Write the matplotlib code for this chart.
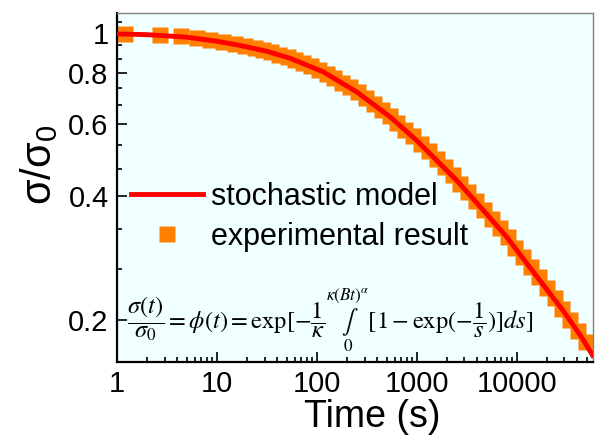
import matplotlib
matplotlib.use("Agg")
import matplotlib.pyplot as plt
from matplotlib.ticker import FixedLocator, NullFormatter, LogLocator
import numpy as np

# stochastic model curve (time in s, sigma/sigma0)
model_t = [1, 2, 5, 10, 17, 32, 54, 115, 250, 540, 1000, 2500, 4500,
           7900, 15000, 29000, 45000, 57500]
model_v = [0.995, 0.991, 0.977, 0.955, 0.933, 0.902, 0.868, 0.805, 0.719,
           0.625, 0.547, 0.438, 0.373, 0.319, 0.260, 0.211, 0.181, 0.164]

# experimental points
exp_t = [1.2, 2.7, 4.4, 6.3, 8.6, 11.5, 15, 19, 24, 29, 35, 42, 51, 61, 73,
         88, 105, 126, 150, 180, 215, 258, 310, 370, 445, 535, 640, 770,
         920, 1100, 1320, 1580, 1900, 2280, 2730, 3270, 3920, 4700, 5630,
         6750, 8100, 9700, 11600, 13900, 16700, 20000, 24000, 28700, 34400,
         41200, 49400]
exp_v = [0.995, 0.990, 0.983, 0.974, 0.964, 0.952, 0.940, 0.929, 0.918,
         0.908, 0.898, 0.886, 0.873, 0.859, 0.845, 0.830, 0.815, 0.796,
         0.776, 0.757, 0.738, 0.718, 0.695, 0.672, 0.649, 0.627, 0.605,
         0.580, 0.560, 0.538, 0.515, 0.492, 0.471, 0.450, 0.429, 0.409,
         0.389, 0.370, 0.352, 0.335, 0.318, 0.300, 0.285, 0.269, 0.254,
         0.239, 0.226, 0.213, 0.200, 0.188, 0.177]

y_major = [0.2, 0.4, 0.6, 0.8, 1.0]
y_major_labels = ["0.2", "0.4", "0.6", "0.8", "1"]
y_minor = [0.2667, 0.3333, 0.4667, 0.5333, 0.6667, 0.7333, 0.8667, 0.9333, 1.0667]
x_major = [1, 10, 100, 1000, 10000]
x_major_labels = ["1", "10", "100", "1000", "10000"]

plt.rcParams["font.family"] = ["Liberation Sans", "DejaVu Sans"]
plt.rcParams["mathtext.fontset"] = "custom"
plt.rcParams["mathtext.rm"] = "Liberation Sans"
plt.rcParams["mathtext.it"] = "Liberation Sans"

fig = plt.figure(figsize=(5.95, 4.37), dpi=100)
ax = fig.add_axes([117/595, 1-362/437, 476/595, 349/437])
ax.set_facecolor("#F0FFFF")

ax.plot(exp_t, exp_v, ls="none", marker="s", ms=12, color="#FF8000",
        mec="none", label="experimental result", zorder=2)
ax.plot(model_t, model_v, color="#FF0000", lw=3.5, label="stochastic model",
        zorder=3)

ax.set_xscale("log")
ax.set_yscale("log")
ax.set_xlim(1, 58000)
ax.set_ylim(0.158, 1.119)

ax.xaxis.set_major_locator(FixedLocator(x_major))
ax.set_xticklabels(x_major_labels)
ax.xaxis.set_minor_locator(LogLocator(base=10, subs=np.arange(2, 10)))
ax.xaxis.set_minor_formatter(NullFormatter())
ax.yaxis.set_major_locator(FixedLocator(y_major))
ax.set_yticklabels(y_major_labels)
ax.yaxis.set_minor_locator(FixedLocator(y_minor))
ax.yaxis.set_minor_formatter(NullFormatter())

ax.tick_params(which="both", direction="in", top=False, right=False,
               width=1.2, labelsize=21)
ax.tick_params(which="major", length=7, pad=6)
ax.tick_params(which="minor", length=3.5)

for s in ["left", "bottom"]:
    ax.spines[s].set_linewidth(1.6)
    ax.spines[s].set_color("black")
for s in ["top", "right"]:
    ax.spines[s].set_linewidth(1.0)
    ax.spines[s].set_color("#808080")

ax.set_xlabel("Time (s)", fontsize=27)
ax.xaxis.set_label_coords((372-117)/476, -(399-362)/349)
ax.set_ylabel("σ/σ$_0$", fontsize=30)
ax.yaxis.set_label_coords(-(117-60)/476, (362-165)/349)

h, l = ax.get_legend_handles_labels()
ax.legend([h[1], h[0]], [l[1], l[0]], loc="center left",
          bbox_to_anchor=(-7/476, (362-217)/349), frameon=False, fontsize=22,
          handlelength=2.35, handletextpad=0.26, labelspacing=0.32,
          borderaxespad=0.3)

eq = (r"$\dfrac{\sigma(t)}{\sigma_0}=\phi(t)=\exp[-\dfrac{1}{\kappa}"
      r"\underset{0}{\overset{\kappa(Bt)^{\alpha}}{\int}}"
      r"[1-\exp(-\dfrac{1}{s})]ds]$")
ax.text(0.021, (362-320)/349, eq, transform=ax.transAxes, fontsize=17.6,
        va="center", ha="left", math_fontfamily="stix")

fig.savefig("out.png", dpi=100)
